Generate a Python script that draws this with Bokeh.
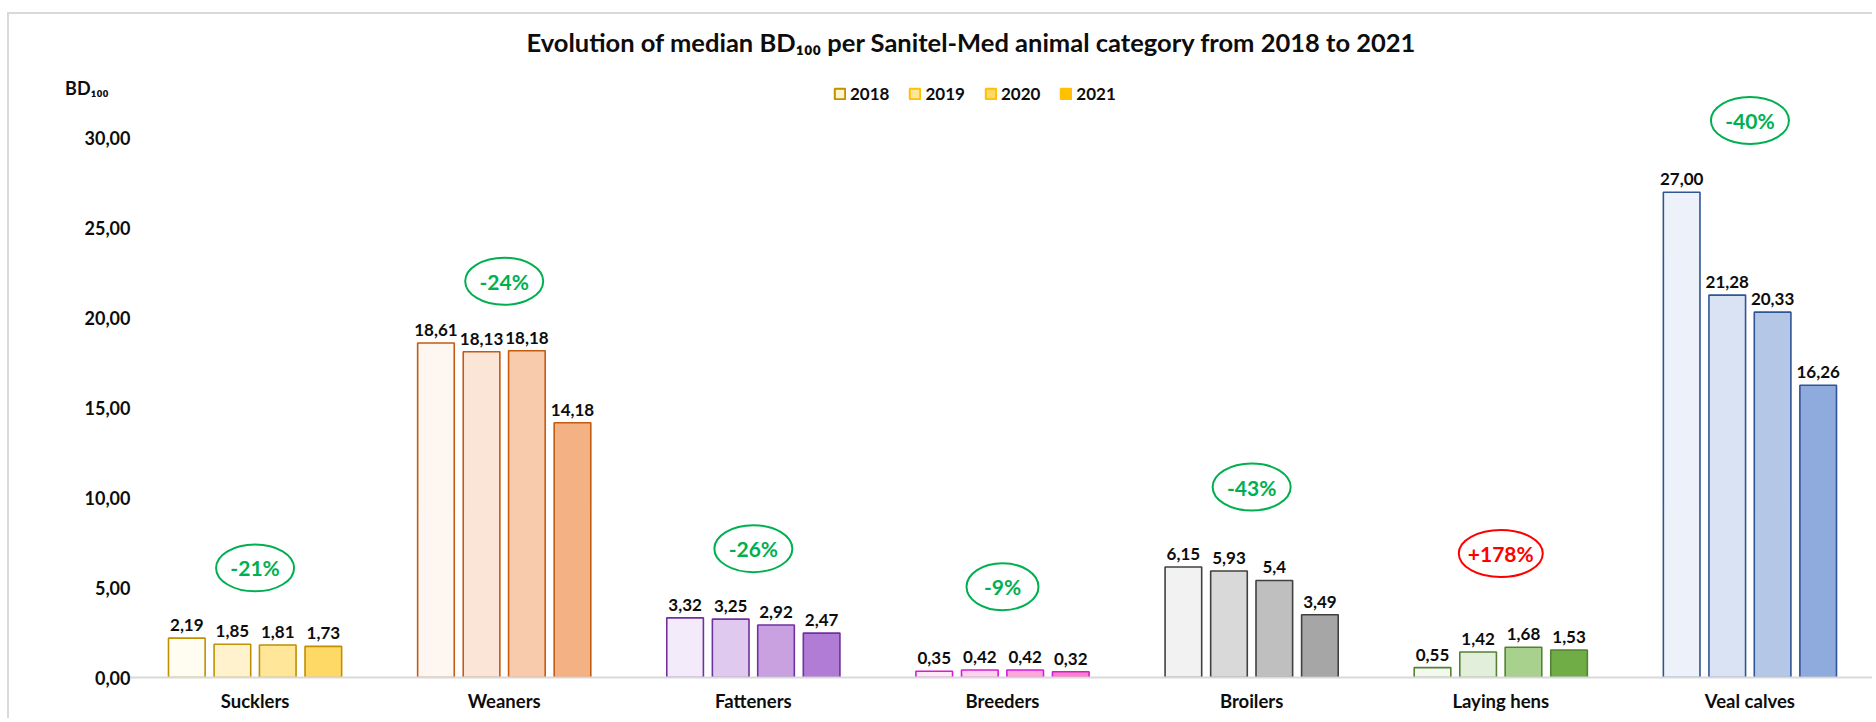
from bokeh.plotting import figure
from bokeh.models import (ColumnDataSource, FactorRange, Range1d, FixedTicker,
                          Legend, LegendItem)
from bokeh.transform import dodge
from bokeh.core.properties import value
from bokeh.embed import file_html
from bokeh.resources import INLINE

# ---------------- data ----------------
categories = ["Sucklers", "Weaners", "Fatteners", "Breeders", "Broilers", "Laying hens", "Veal calves"]
years = ["2018", "2019", "2020", "2021"]
v2018 = [2.19, 18.61, 3.32, 0.35, 6.15, 0.55, 27.00]
v2019 = [1.85, 18.13, 3.25, 0.42, 5.93, 1.42, 21.28]
v2020 = [1.81, 18.18, 2.92, 0.42, 5.4, 1.68, 20.33]
v2021 = [1.73, 14.18, 2.47, 0.32, 3.49, 1.53, 16.26]
y_ticks = [0, 5, 10, 15, 20, 25, 30]
y_unit = "BD\u2081\u2080\u2080"
badge_y = [6.1, 22.05, 7.17, 5.05, 10.6, 6.9, 31.0]

# ---------------- styles ----------------
FONT = value("Lato")
TXT = "#0D0D0D"
fills = {
    "2018": ["#FFFCF2", "#FEF6F0", "#F3EBF9", "#FFEBF8", "#F2F2F2", "#F4F9F0", "#EDF1FA"],
    "2019": ["#FFF2CC", "#FBE5D6", "#E0C9EF", "#FFD3EE", "#D9D9D9", "#E2EFDA", "#DAE3F3"],
    "2020": ["#FFE699", "#F8CBAD", "#C9A0E0", "#FFA6DB", "#BFBFBF", "#A9D18E", "#B4C7E7"],
    "2021": ["#FFD966", "#F4B183", "#B07CD6", "#FF7FC9", "#A6A6A6", "#70AD47", "#8FAADC"],
}
borders = ["#BF9000", "#C55A11", "#7030A0", "#D41CD4", "#404040", "#548235", "#2F5597"]
legend_fill = ["#FFF2CC", "#FFE699", "#FFD966", "#FFC000"]
legend_line = ["#BF9000", "#FFC000", "#FFC000", "#FFC000"]
offsets = [-0.274, -0.091, 0.091, 0.274]
bar_w = 0.147
unit_pos = 32.8
unit_pad = "\u00a0" * 5   # nudges the unit label left, above the tick labels


def fmt(v):
    if v == int(v):
        return f"{v:.2f}".replace(".", ",")
    return repr(v).replace(".", ",")


series = {"2018": v2018, "2019": v2019, "2020": v2020, "2021": v2021}
data = {"cat": categories, "line": borders}
for yr in years:
    data["v" + yr] = series[yr]
    data["f" + yr] = fills[yr]
    data["l" + yr] = [fmt(v) for v in series[yr]]
src = ColumnDataSource(data)

pct = [(b - a) / a * 100 for a, b in zip(v2018, v2021)]
badge_txt = [("+" if c > 0 else "-") + f"{abs(c):.0f}%" for c in pct]
badge_col = ["#FF0000" if c > 0 else "#00B050" for c in pct]
badge_w = [54 + 6 * len(t) for t in badge_txt]
bsrc = ColumnDataSource(dict(cat=categories, y=badge_y, t=badge_txt, c=badge_col, w=badge_w))

p = figure(x_range=FactorRange(factors=categories), y_range=Range1d(0, 34),
           width=1865, height=706, output_backend="svg", toolbar_location=None,
           min_border_left=0, min_border_right=0, min_border_top=51, min_border_bottom=43,
           title="Evolution of median BD\u2081\u2080\u2080 per Sanitel-Med animal category from 2018 to 2021")
p.styles = {"border-top": "2px solid #D9D9D9", "border-left": "2px solid #D9D9D9",
            "margin-top": "12px", "margin-left": "7px"}
p.title.align = "left"
p.title.offset = 396
p.title.standoff = 20
p.title.text_font = "Lato"
p.title.text_font_size = "25.5px"
p.title.text_font_style = "bold"
p.title.text_color = TXT

p.xgrid.grid_line_color = None
p.ygrid.grid_line_color = None
p.outline_line_color = None

p.xaxis.axis_line_color = "#D9D9D9"
p.xaxis.axis_line_width = 2
p.xaxis.major_tick_line_color = None
p.xaxis.major_tick_out = 0
p.xaxis.major_label_standoff = 12
p.xaxis.major_label_text_font = "Lato"
p.xaxis.major_label_text_font_size = "18.5px"
p.xaxis.major_label_text_font_style = "bold"
p.xaxis.major_label_text_color = TXT

overrides = {t: f"{t:.2f}".replace(".", ",") for t in y_ticks}
overrides[unit_pos] = y_unit + unit_pad
p.yaxis.ticker = FixedTicker(ticks=y_ticks + [unit_pos])
p.yaxis.major_label_overrides = overrides
p.yaxis.axis_line_color = None
p.yaxis.major_tick_line_color = None
p.yaxis.minor_tick_line_color = None
p.yaxis.major_tick_out = 0
p.yaxis.minor_tick_out = 0
p.yaxis.major_label_standoff = 0
p.yaxis.major_label_text_font = "Lato"
p.yaxis.major_label_text_font_size = "18px"
p.yaxis.major_label_text_font_style = "bold"
p.yaxis.major_label_text_color = TXT
p.yaxis.axis_label = " "
p.yaxis.axis_label_standoff = 30
p.yaxis.axis_label_text_font_size = "18px"

for i, yr in enumerate(years):
    xd = dodge("cat", offsets[i], range=p.x_range)
    p.vbar(x=xd, top="v" + yr, width=bar_w, source=src,
           fill_color="f" + yr, line_color="line", line_width=1.6)
    p.text(x=xd, y="v" + yr, text="l" + yr, source=src, y_offset=-7,
           text_align="center", text_baseline="bottom", text_font=FONT,
           text_font_size="17px", text_font_style="bold", text_color=TXT)

p.ellipse(x="cat", y="y", width="w", height=47, width_units="screen", height_units="screen",
          source=bsrc, fill_color=None, line_color="c", line_width=2)
p.text(x="cat", y="y", text="t", source=bsrc, text_align="center", text_baseline="middle",
       text_font=FONT, text_font_size="21px", text_font_style="bold", text_color="c")

items = []
for i, yr in enumerate(years):
    r = p.vbar(x=[categories[0]], top=[float("nan")], width=bar_w,
               fill_color=legend_fill[i], line_color=legend_line[i], line_width=2)
    items.append(LegendItem(label=yr, renderers=[r]))
legend = Legend(items=items, orientation="horizontal", location=(703, 573),
                glyph_width=13, glyph_height=13, label_standoff=4, spacing=19,
                label_text_font="Lato", label_text_font_size="17px", label_text_font_style="bold",
                label_text_color=TXT, border_line_color=None, background_fill_alpha=0,
                margin=0, padding=9)
p.add_layout(legend)

open("out.html", "w").write(file_html(p, INLINE))
